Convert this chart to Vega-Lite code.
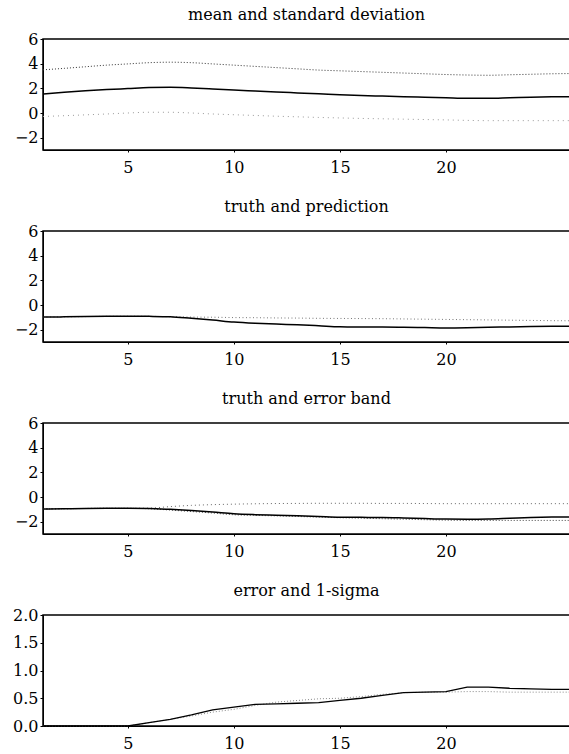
{
  "$schema": "https://vega.github.io/schema/vega-lite/v6.json",
  "padding": {"left": 11, "top": 6, "right": 0, "bottom": 0},
  "background": "white",
  "config": {
    "font": "DejaVu Serif",
    "view": {"stroke": "black", "strokeWidth": 1.5},
    "axis": {"grid": false, "domainColor": "black", "domainWidth": 1, "tickColor": "black", "labelColor": "black", "labelFontSize": 16, "labelFont": "DejaVu Serif", "tickSize": 3, "labelPadding": 2},
    "axisX": {"labelPadding": 7, "tickSize": 2},
    "title": {"fontSize": 16, "fontWeight": "normal", "color": "black", "font": "DejaVu Serif", "offset": 8},
    "concat": {"spacing": 22},
    "line": {"clip": true}
  },
  "datasets": {
    "p1": [
      {"x":1,"s":"mean","v":1.54},{"x":2,"s":"mean","v":1.68},{"x":3,"s":"mean","v":1.8},{"x":4,"s":"mean","v":1.9},{"x":5,"s":"mean","v":1.98},{"x":6,"s":"mean","v":2.06},{"x":7,"s":"mean","v":2.08},{"x":8,"s":"mean","v":2.03},{"x":9,"s":"mean","v":1.95},{"x":10,"s":"mean","v":1.86},{"x":11,"s":"mean","v":1.78},{"x":12,"s":"mean","v":1.7},{"x":13,"s":"mean","v":1.63},{"x":14,"s":"mean","v":1.56},{"x":15,"s":"mean","v":1.48},{"x":16,"s":"mean","v":1.42},{"x":17,"s":"mean","v":1.37},{"x":18,"s":"mean","v":1.32},{"x":19,"s":"mean","v":1.28},{"x":20,"s":"mean","v":1.24},{"x":21,"s":"mean","v":1.2},{"x":22,"s":"mean","v":1.2},{"x":23,"s":"mean","v":1.24},{"x":24,"s":"mean","v":1.28},{"x":25,"s":"mean","v":1.31},{"x":26,"s":"mean","v":1.33},
      {"x":1,"s":"upper","v":3.5},{"x":2,"s":"upper","v":3.62},{"x":3,"s":"upper","v":3.75},{"x":4,"s":"upper","v":3.88},{"x":5,"s":"upper","v":3.98},{"x":6,"s":"upper","v":4.08},{"x":7,"s":"upper","v":4.12},{"x":8,"s":"upper","v":4.08},{"x":9,"s":"upper","v":3.98},{"x":10,"s":"upper","v":3.88},{"x":11,"s":"upper","v":3.78},{"x":12,"s":"upper","v":3.68},{"x":13,"s":"upper","v":3.58},{"x":14,"s":"upper","v":3.48},{"x":15,"s":"upper","v":3.42},{"x":16,"s":"upper","v":3.36},{"x":17,"s":"upper","v":3.3},{"x":18,"s":"upper","v":3.24},{"x":19,"s":"upper","v":3.18},{"x":20,"s":"upper","v":3.12},{"x":21,"s":"upper","v":3.08},{"x":22,"s":"upper","v":3.06},{"x":23,"s":"upper","v":3.1},{"x":24,"s":"upper","v":3.14},{"x":25,"s":"upper","v":3.18},{"x":26,"s":"upper","v":3.2},
      {"x":1,"s":"lower","v":-0.28},{"x":2,"s":"lower","v":-0.22},{"x":3,"s":"lower","v":-0.15},{"x":4,"s":"lower","v":-0.08},{"x":5,"s":"lower","v":0.0},{"x":6,"s":"lower","v":0.06},{"x":7,"s":"lower","v":0.06},{"x":8,"s":"lower","v":0.0},{"x":9,"s":"lower","v":-0.08},{"x":10,"s":"lower","v":-0.14},{"x":11,"s":"lower","v":-0.2},{"x":12,"s":"lower","v":-0.26},{"x":13,"s":"lower","v":-0.31},{"x":14,"s":"lower","v":-0.36},{"x":15,"s":"lower","v":-0.4},{"x":16,"s":"lower","v":-0.44},{"x":17,"s":"lower","v":-0.47},{"x":18,"s":"lower","v":-0.5},{"x":19,"s":"lower","v":-0.53},{"x":20,"s":"lower","v":-0.56},{"x":21,"s":"lower","v":-0.6},{"x":22,"s":"lower","v":-0.62},{"x":23,"s":"lower","v":-0.62},{"x":24,"s":"lower","v":-0.62},{"x":25,"s":"lower","v":-0.62},{"x":26,"s":"lower","v":-0.62}
    ],
    "p2": [
      {"x":1,"s":"truth","v":-0.98},{"x":2,"s":"truth","v":-0.96},{"x":3,"s":"truth","v":-0.94},{"x":4,"s":"truth","v":-0.92},{"x":5,"s":"truth","v":-0.91},{"x":6,"s":"truth","v":-0.92},{"x":7,"s":"truth","v":-0.95},{"x":8,"s":"truth","v":-1.08},{"x":9,"s":"truth","v":-1.22},{"x":10,"s":"truth","v":-1.38},{"x":11,"s":"truth","v":-1.48},{"x":12,"s":"truth","v":-1.55},{"x":13,"s":"truth","v":-1.6},{"x":14,"s":"truth","v":-1.68},{"x":15,"s":"truth","v":-1.77},{"x":16,"s":"truth","v":-1.78},{"x":17,"s":"truth","v":-1.78},{"x":18,"s":"truth","v":-1.8},{"x":19,"s":"truth","v":-1.83},{"x":20,"s":"truth","v":-1.86},{"x":21,"s":"truth","v":-1.84},{"x":22,"s":"truth","v":-1.8},{"x":23,"s":"truth","v":-1.78},{"x":24,"s":"truth","v":-1.75},{"x":25,"s":"truth","v":-1.73},{"x":26,"s":"truth","v":-1.72},
      {"x":1,"s":"pred","v":-0.98},{"x":2,"s":"pred","v":-0.96},{"x":3,"s":"pred","v":-0.94},{"x":4,"s":"pred","v":-0.92},{"x":5,"s":"pred","v":-0.91},{"x":6,"s":"pred","v":-0.92},{"x":7,"s":"pred","v":-0.95},{"x":8,"s":"pred","v":-0.98},{"x":9,"s":"pred","v":-0.99},{"x":10,"s":"pred","v":-1.02},{"x":11,"s":"pred","v":-1.03},{"x":12,"s":"pred","v":-1.05},{"x":13,"s":"pred","v":-1.06},{"x":14,"s":"pred","v":-1.08},{"x":15,"s":"pred","v":-1.09},{"x":16,"s":"pred","v":-1.1},{"x":17,"s":"pred","v":-1.11},{"x":18,"s":"pred","v":-1.13},{"x":19,"s":"pred","v":-1.15},{"x":20,"s":"pred","v":-1.17},{"x":21,"s":"pred","v":-1.19},{"x":22,"s":"pred","v":-1.21},{"x":23,"s":"pred","v":-1.23},{"x":24,"s":"pred","v":-1.25},{"x":25,"s":"pred","v":-1.27},{"x":26,"s":"pred","v":-1.28}
    ],
    "p3": [
      {"x":1,"s":"truth","v":-0.97},{"x":2,"s":"truth","v":-0.95},{"x":3,"s":"truth","v":-0.93},{"x":4,"s":"truth","v":-0.92},{"x":5,"s":"truth","v":-0.92},{"x":6,"s":"truth","v":-0.93},{"x":7,"s":"truth","v":-1.0},{"x":8,"s":"truth","v":-1.1},{"x":9,"s":"truth","v":-1.22},{"x":10,"s":"truth","v":-1.36},{"x":11,"s":"truth","v":-1.43},{"x":12,"s":"truth","v":-1.47},{"x":13,"s":"truth","v":-1.52},{"x":14,"s":"truth","v":-1.58},{"x":15,"s":"truth","v":-1.64},{"x":16,"s":"truth","v":-1.65},{"x":17,"s":"truth","v":-1.66},{"x":18,"s":"truth","v":-1.7},{"x":19,"s":"truth","v":-1.75},{"x":20,"s":"truth","v":-1.79},{"x":21,"s":"truth","v":-1.8},{"x":22,"s":"truth","v":-1.78},{"x":23,"s":"truth","v":-1.72},{"x":24,"s":"truth","v":-1.66},{"x":25,"s":"truth","v":-1.63},{"x":26,"s":"truth","v":-1.62},
      {"x":1,"s":"upper","v":-0.97},{"x":2,"s":"upper","v":-0.95},{"x":3,"s":"upper","v":-0.93},{"x":4,"s":"upper","v":-0.92},{"x":5,"s":"upper","v":-0.92},{"x":6,"s":"upper","v":-0.9},{"x":7,"s":"upper","v":-0.78},{"x":8,"s":"upper","v":-0.68},{"x":9,"s":"upper","v":-0.62},{"x":10,"s":"upper","v":-0.58},{"x":11,"s":"upper","v":-0.55},{"x":12,"s":"upper","v":-0.53},{"x":13,"s":"upper","v":-0.52},{"x":14,"s":"upper","v":-0.51},{"x":15,"s":"upper","v":-0.51},{"x":16,"s":"upper","v":-0.51},{"x":17,"s":"upper","v":-0.52},{"x":18,"s":"upper","v":-0.52},{"x":19,"s":"upper","v":-0.53},{"x":20,"s":"upper","v":-0.54},{"x":21,"s":"upper","v":-0.54},{"x":22,"s":"upper","v":-0.54},{"x":23,"s":"upper","v":-0.54},{"x":24,"s":"upper","v":-0.54},{"x":25,"s":"upper","v":-0.54},{"x":26,"s":"upper","v":-0.54},
      {"x":1,"s":"lower","v":-0.97},{"x":2,"s":"lower","v":-0.95},{"x":3,"s":"lower","v":-0.93},{"x":4,"s":"lower","v":-0.92},{"x":5,"s":"lower","v":-0.92},{"x":6,"s":"lower","v":-0.95},{"x":7,"s":"lower","v":-1.06},{"x":8,"s":"lower","v":-1.18},{"x":9,"s":"lower","v":-1.3},{"x":10,"s":"lower","v":-1.44},{"x":11,"s":"lower","v":-1.49},{"x":12,"s":"lower","v":-1.53},{"x":13,"s":"lower","v":-1.58},{"x":14,"s":"lower","v":-1.63},{"x":15,"s":"lower","v":-1.68},{"x":16,"s":"lower","v":-1.72},{"x":17,"s":"lower","v":-1.76},{"x":18,"s":"lower","v":-1.8},{"x":19,"s":"lower","v":-1.84},{"x":20,"s":"lower","v":-1.88},{"x":21,"s":"lower","v":-1.9},{"x":22,"s":"lower","v":-1.9},{"x":23,"s":"lower","v":-1.9},{"x":24,"s":"lower","v":-1.9},{"x":25,"s":"lower","v":-1.9},{"x":26,"s":"lower","v":-1.9}
    ],
    "p4": [
      {"x":1,"s":"error","v":0},{"x":2,"s":"error","v":0},{"x":3,"s":"error","v":0},{"x":4,"s":"error","v":0},{"x":5,"s":"error","v":0},{"x":6,"s":"error","v":0.06},{"x":7,"s":"error","v":0.12},{"x":8,"s":"error","v":0.2},{"x":9,"s":"error","v":0.29},{"x":10,"s":"error","v":0.34},{"x":11,"s":"error","v":0.39},{"x":12,"s":"error","v":0.4},{"x":13,"s":"error","v":0.41},{"x":14,"s":"error","v":0.42},{"x":15,"s":"error","v":0.46},{"x":16,"s":"error","v":0.5},{"x":17,"s":"error","v":0.55},{"x":18,"s":"error","v":0.6},{"x":19,"s":"error","v":0.61},{"x":20,"s":"error","v":0.62},{"x":21,"s":"error","v":0.7},{"x":22,"s":"error","v":0.7},{"x":23,"s":"error","v":0.68},{"x":24,"s":"error","v":0.67},{"x":25,"s":"error","v":0.66},{"x":26,"s":"error","v":0.66},
      {"x":1,"s":"sigma","v":0},{"x":2,"s":"sigma","v":0},{"x":3,"s":"sigma","v":0},{"x":4,"s":"sigma","v":0},{"x":5,"s":"sigma","v":0},{"x":6,"s":"sigma","v":0.06},{"x":7,"s":"sigma","v":0.12},{"x":8,"s":"sigma","v":0.18},{"x":9,"s":"sigma","v":0.25},{"x":10,"s":"sigma","v":0.3},{"x":11,"s":"sigma","v":0.37},{"x":12,"s":"sigma","v":0.43},{"x":13,"s":"sigma","v":0.46},{"x":14,"s":"sigma","v":0.49},{"x":15,"s":"sigma","v":0.5},{"x":16,"s":"sigma","v":0.53},{"x":17,"s":"sigma","v":0.57},{"x":18,"s":"sigma","v":0.6},{"x":19,"s":"sigma","v":0.61},{"x":20,"s":"sigma","v":0.61},{"x":21,"s":"sigma","v":0.62},{"x":22,"s":"sigma","v":0.62},{"x":23,"s":"sigma","v":0.61},{"x":24,"s":"sigma","v":0.61},{"x":25,"s":"sigma","v":0.61},{"x":26,"s":"sigma","v":0.61}
    ]
  },
  "vconcat": [
    {
      "title": "mean and standard deviation",
      "width": 527, "height": 111,
      "data": {"name": "p1"},
      "encoding": {
        "x": {"field": "x", "type": "quantitative", "scale": {"domain": [1, 25.85], "nice": false}, "axis": {"title": null, "values": [5, 10, 15, 20]}},
        "y": {"field": "v", "type": "quantitative", "scale": {"domain": [-3, 6], "nice": false}, "axis": {"title": null, "values": [-2, 0, 2, 4, 6]}}
      },
      "layer": [
        {"transform": [{"filter": "datum.s === 'lower'"}], "mark": {"type": "line", "interpolate": "monotone", "color": "#9a9a9a", "strokeWidth": 1, "strokeDash": [1, 4]}},
        {"transform": [{"filter": "datum.s === 'upper'"}], "mark": {"type": "line", "interpolate": "monotone", "color": "#333333", "strokeWidth": 1, "strokeDash": [1, 2]}},
        {"transform": [{"filter": "datum.s === 'mean'"}], "mark": {"type": "line", "interpolate": "monotone", "color": "#000000", "strokeWidth": 1.5}}
      ]
    },
    {
      "title": "truth and prediction",
      "width": 527, "height": 111,
      "data": {"name": "p2"},
      "encoding": {
        "x": {"field": "x", "type": "quantitative", "scale": {"domain": [1, 25.85], "nice": false}, "axis": {"title": null, "values": [5, 10, 15, 20]}},
        "y": {"field": "v", "type": "quantitative", "scale": {"domain": [-3, 6], "nice": false}, "axis": {"title": null, "values": [-2, 0, 2, 4, 6]}}
      },
      "layer": [
        {"transform": [{"filter": "datum.s === 'pred'"}], "mark": {"type": "line", "interpolate": "monotone", "color": "#777777", "strokeWidth": 1, "strokeDash": [1, 2.5]}},
        {"transform": [{"filter": "datum.s === 'truth'"}], "mark": {"type": "line", "interpolate": "monotone", "color": "#000000", "strokeWidth": 1.5}}
      ]
    },
    {
      "title": "truth and error band",
      "width": 527, "height": 111,
      "data": {"name": "p3"},
      "encoding": {
        "x": {"field": "x", "type": "quantitative", "scale": {"domain": [1, 25.85], "nice": false}, "axis": {"title": null, "values": [5, 10, 15, 20]}},
        "y": {"field": "v", "type": "quantitative", "scale": {"domain": [-3, 6], "nice": false}, "axis": {"title": null, "values": [-2, 0, 2, 4, 6]}}
      },
      "layer": [
        {"transform": [{"filter": "datum.s === 'upper'"}], "mark": {"type": "line", "interpolate": "monotone", "color": "#666666", "strokeWidth": 1, "strokeDash": [1, 3]}},
        {"transform": [{"filter": "datum.s === 'lower'"}], "mark": {"type": "line", "interpolate": "monotone", "color": "#444444", "strokeWidth": 1, "strokeDash": [1, 2]}},
        {"transform": [{"filter": "datum.s === 'truth'"}], "mark": {"type": "line", "interpolate": "monotone", "color": "#000000", "strokeWidth": 1.5}}
      ]
    },
    {
      "title": "error and 1-sigma",
      "width": 527, "height": 111,
      "data": {"name": "p4"},
      "encoding": {
        "x": {"field": "x", "type": "quantitative", "scale": {"domain": [1, 25.85], "nice": false}, "axis": {"title": null, "values": [5, 10, 15, 20]}},
        "y": {"field": "v", "type": "quantitative", "scale": {"domain": [0, 2], "nice": false}, "axis": {"title": null, "values": [0, 0.5, 1, 1.5, 2], "format": ".1f"}}
      },
      "layer": [
        {"transform": [{"filter": "datum.s === 'sigma'"}], "mark": {"type": "line", "color": "#888888", "strokeWidth": 1, "strokeDash": [1, 2]}},
        {"transform": [{"filter": "datum.s === 'error'"}], "mark": {"type": "line", "color": "#000000", "strokeWidth": 1.3}}
      ]
    }
  ]
}
